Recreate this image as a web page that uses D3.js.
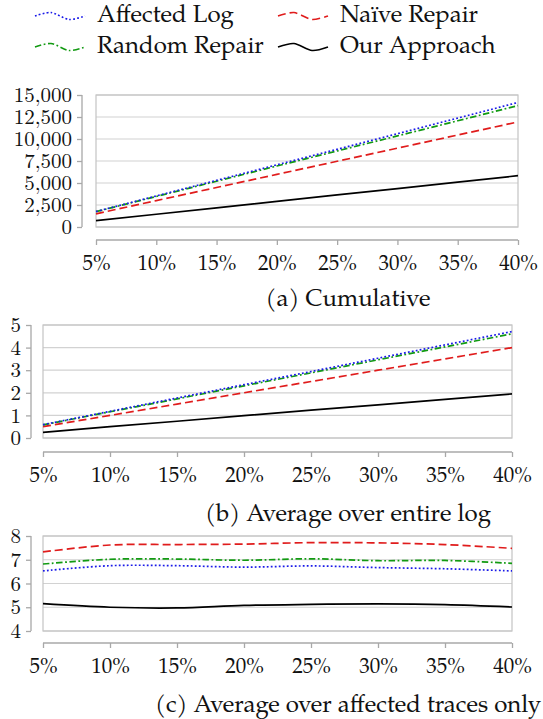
<!DOCTYPE html>
<html>
<head>
<meta charset="utf-8">
<script src="https://cdn.jsdelivr.net/npm/d3@7"></script>
</head>
<body style="margin:0; background:#fff">
<div id="chart"></div>
<script>
// x values (percentage of log affected)
const percents = [5, 10, 15, 20, 25, 30, 35, 40];
const seriesNames = ["Affected Log", "Naïve Repair", "Random Repair", "Our Approach"];

// (a) cumulative
const cumAffected = [1760, 3530, 5300, 7070, 8830, 10600, 12380, 14150];
const cumNaive    = [1500, 3000, 4490, 5980, 7470, 8960, 10450, 11940];
const cumRandom   = [1740, 3470, 5200, 6930, 8640, 10350, 12070, 13800];
const cumOurs     = [720, 1450, 2180, 2910, 3640, 4370, 5100, 5830];

// (b) average over entire log
const avgAffected = [0.59, 1.18, 1.77, 2.36, 2.94, 3.53, 4.12, 4.71];
const avgNaive    = [0.5, 1.0, 1.5, 2.0, 2.5, 3.0, 3.5, 4.0];
const avgRandom   = [0.58, 1.16, 1.73, 2.31, 2.88, 3.46, 4.03, 4.61];
const avgOurs     = [0.25, 0.5, 0.74, 0.99, 1.23, 1.47, 1.71, 1.95];

// (c) average over affected traces only
const trAffected = [6.53, 6.75, 6.75, 6.69, 6.74, 6.67, 6.62, 6.53];
const trNaive    = [7.33, 7.62, 7.64, 7.66, 7.72, 7.71, 7.64, 7.48];
const trRandom   = [6.82, 7.02, 7.03, 6.98, 7.04, 6.96, 6.97, 6.85];
const trOurs     = [5.15, 5.0, 4.97, 5.08, 5.12, 5.14, 5.11, 5.01];

const yTicksA = [0, 2500, 5000, 7500, 10000, 12500, 15000];
const yTicksB = [0, 1, 2, 3, 4, 5];
const yTicksC = [4, 5, 6, 7, 8];
const captions = ["(a) Cumulative", "(b) Average over entire log", "(c) Average over affected traces only"];

const textFont = "'TeX Gyre Pagella', 'Liberation Serif'";
const numFont = "'Latin Modern Roman', 'CMU Serif', 'TeX Gyre Pagella', 'Liberation Serif'";

const styles = {
  "Affected Log":  {color: "#1a1ae8", dash: "1.8,2.2"},
  "Naïve Repair":  {color: "#e01c1c", dash: "8,4"},
  "Random Repair": {color: "#129a12", dash: "6.5,2.5,1.8,2.5"},
  "Our Approach":  {color: "#000000", dash: null}
};

const W = 543, H = 719;
const svg = d3.select("#chart").append("svg")
  .attr("width", W).attr("height", H);

// legend
const legendPos = [
  {name: "Affected Log", x: 35, y: 16},
  {name: "Naïve Repair", x: 278, y: 16},
  {name: "Random Repair", x: 35, y: 47},
  {name: "Our Approach", x: 278, y: 47}
];
const swatch = d3.line().curve(d3.curveCardinal.tension(0.2));
legendPos.forEach(function(l) {
  let st = styles[l.name];
  let pts = [[0, 0], [16, -3.5], [34, 3.5], [50, 0]].map(p => [l.x + p[0], l.y + p[1]]);
  svg.append("path")
    .attr("d", swatch(pts))
    .attr("fill", "none")
    .attr("stroke", st.color)
    .attr("stroke-width", 1.6)
    .attr("stroke-dasharray", st.dash);
  svg.append("text")
    .attr("x", l.x + 62).attr("y", l.y + 6)
    .attr("font-family", textFont)
    .attr("font-size", 24)
    .attr("fill", "#111")
    .text(l.name);
});

function drawPanel(cfg) {
  let x = d3.scaleLinear().domain([5, 40]).range([cfg.left, cfg.right]);
  let y = d3.scaleLinear().domain(cfg.yDomain).range([cfg.bottom, cfg.top]);
  let g = svg.append("g");

  // grid
  g.selectAll(".grid").data(cfg.yTicks).enter().append("line")
    .attr("x1", cfg.left).attr("x2", cfg.right)
    .attr("y1", d => y(d)).attr("y2", d => y(d))
    .attr("stroke", "#d2d2d2").attr("stroke-width", 1.2);
  g.append("rect")
    .attr("x", cfg.left).attr("y", cfg.top)
    .attr("width", cfg.right - cfg.left).attr("height", cfg.bottom - cfg.top)
    .attr("fill", "none").attr("stroke", "#c4c4c4").attr("stroke-width", 1.2);

  // y axis, detached to the left
  let yAxis = d3.axisLeft(y).tickValues(cfg.yTicks).tickSize(5).tickPadding(5)
    .tickFormat(cfg.format);
  let ya = g.append("g").attr("transform", "translate(" + cfg.yAxisX + ",0)").call(yAxis)
    .attr("font-family", numFont).attr("font-size", 21);
  // x axis, detached below
  let xAxis = d3.axisBottom(x).tickValues(percents).tickSize(5).tickPadding(10)
    .tickFormat(d => d + "%");
  let xa = g.append("g").attr("transform", "translate(0," + cfg.xAxisY + ")").call(xAxis)
    .attr("font-family", textFont).attr("font-size", 21);
  [ya, xa].forEach(function(a) {
    a.select(".domain").attr("stroke", "#a8a8a8").attr("stroke-width", 1.3);
    a.selectAll(".tick line").attr("stroke", "#a8a8a8").attr("stroke-width", 1.3);
    a.selectAll(".tick text").attr("fill", "#111");
  });
  // plain domain lines (no outer ticks)
  ya.select(".domain").attr("d", "M0," + cfg.top + "V" + cfg.bottom);
  xa.select(".domain").attr("d", "M" + cfg.left + ",0H" + cfg.right);

  let line = d3.line()
    .x((d, i) => x(percents[i]))
    .y(d => y(d))
    .curve(cfg.smooth ? d3.curveCatmullRom.alpha(0.5) : d3.curveLinear);

  // draw order: ours, naive, random, affected
  ["Our Approach", "Naïve Repair", "Random Repair", "Affected Log"].forEach(function(name) {
    let st = styles[name];
    g.append("path")
      .attr("d", line(cfg.series[name]))
      .attr("fill", "none")
      .attr("stroke", st.color)
      .attr("stroke-width", 1.7)
      .attr("stroke-dasharray", st.dash);
  });

  svg.append("text")
    .attr("x", 348).attr("y", cfg.captionY)
    .attr("text-anchor", "middle")
    .attr("font-family", textFont)
    .attr("font-size", 24)
    .attr("fill", "#111")
    .text(cfg.caption);
}

drawPanel({
  left: 96, right: 518, top: 95, bottom: 227, yAxisX: 82, xAxisY: 240,
  yDomain: [0, 15000], yTicks: yTicksA, format: d3.format(","),
  series: {"Affected Log": cumAffected, "Naïve Repair": cumNaive, "Random Repair": cumRandom, "Our Approach": cumOurs},
  caption: captions[0], captionY: 306, smooth: false
});
drawPanel({
  left: 43, right: 512, top: 325, bottom: 438, yAxisX: 31, xAxisY: 452,
  yDomain: [0, 5], yTicks: yTicksB, format: d3.format("d"),
  series: {"Affected Log": avgAffected, "Naïve Repair": avgNaive, "Random Repair": avgRandom, "Our Approach": avgOurs},
  caption: captions[1], captionY: 521, smooth: false
});
drawPanel({
  left: 43, right: 512, top: 536, bottom: 631, yAxisX: 31, xAxisY: 643,
  yDomain: [4, 8], yTicks: yTicksC, format: d3.format("d"),
  series: {"Affected Log": trAffected, "Naïve Repair": trNaive, "Random Repair": trRandom, "Our Approach": trOurs},
  caption: captions[2], captionY: 712, smooth: true
});
</script>
</body>
</html>
